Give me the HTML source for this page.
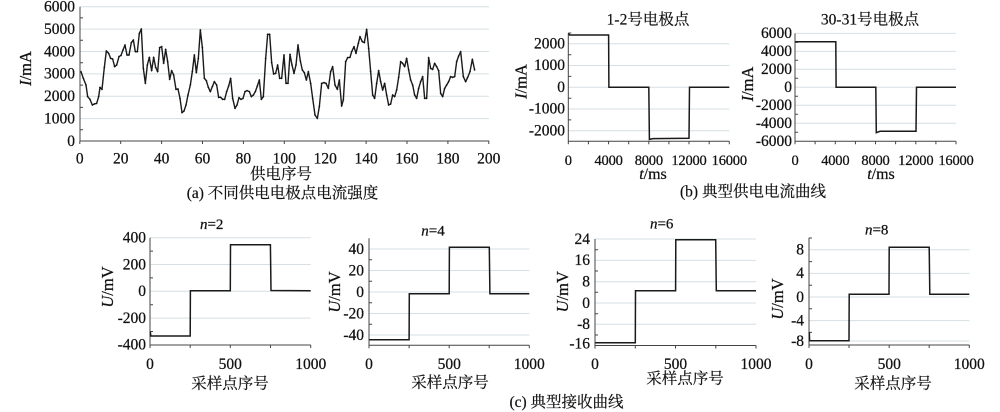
<!DOCTYPE html>
<html><head><meta charset="utf-8"><style>
html,body{margin:0;padding:0;background:#fff;}
svg{display:block;}
.n{font-family:"Liberation Serif","Noto Serif CJK SC",serif;font-size:15.5px;fill:#111;stroke:#111;stroke-width:0.25;}
.bx{font-size:14.5px;letter-spacing:-0.2px;}
.c{font-family:"Liberation Serif","Noto Serif CJK SC",serif;font-size:15.5px;fill:#111;stroke:#111;stroke-width:0.2;}
.g{stroke:#d6dfe3;stroke-width:1;}
.ax{stroke:#444;stroke-width:1;fill:none;}
.d{stroke:#1a1a1a;stroke-width:1.5;fill:none;}
</style></head><body>
<svg width="1000" height="412" viewBox="0 0 1000 412" xmlns="http://www.w3.org/2000/svg">
<defs>
<marker id="mk" markerWidth="8" markerHeight="8" refX="4" refY="4" markerUnits="userSpaceOnUse">
<path d="M1,4 H7 M4,1 V7" stroke="#111" stroke-width="1.6"/>
</marker>
</defs>

<!-- ========== Chart (a) ========== -->
<g>
<g class="g">
<line x1="80" y1="6.7" x2="489" y2="6.7"/>
<line x1="80" y1="29.1" x2="489" y2="29.1"/>
<line x1="80" y1="51.5" x2="489" y2="51.5"/>
<line x1="80" y1="73.9" x2="489" y2="73.9"/>
<line x1="80" y1="96.2" x2="489" y2="96.2"/>
<line x1="80" y1="118.6" x2="489" y2="118.6"/>
</g>
<path class="ax" d="M80,6.7 V141 H489"/>
<path class="ax" d="M80,17.9 h3 M80,40.3 h3 M80,62.7 h3 M80,85.1 h3 M80,107.4 h3 M80,129.8 h3
M79.8,141 v3 M120.7,141 v3 M161.6,141 v3 M202.5,141 v3 M243.4,141 v3 M284.3,141 v3 M325.2,141 v3 M366.1,141 v3 M407,141 v3 M447.9,141 v3 M488.8,141 v3"/>
<g class="n" text-anchor="end" dominant-baseline="central">
<text x="75" y="7">6000</text>
<text x="75" y="29.4">5000</text>
<text x="75" y="51.8">4000</text>
<text x="75" y="74.2">3000</text>
<text x="75" y="96.5">2000</text>
<text x="75" y="118.9">1000</text>
<text x="75" y="141.3">0</text>
</g>
<g class="n" text-anchor="middle">
<text x="79.8" y="163.5">0</text>
<text x="120.7" y="163.5">20</text>
<text x="161.6" y="163.5">40</text>
<text x="202.5" y="163.5">60</text>
<text x="243.4" y="163.5">80</text>
<text x="284.3" y="163.5">100</text>
<text x="325.2" y="163.5">120</text>
<text x="366.1" y="163.5">140</text>
<text x="407" y="163.5">160</text>
<text x="447.9" y="163.5">180</text>
<text x="488.8" y="163.5">200</text>
</g>
<text class="n" text-anchor="middle" transform="translate(31,68.5) rotate(-90)" style="font-size:16.5px"><tspan font-style="italic">I</tspan>/mA</text>
<text class="c" x="281" y="179" text-anchor="middle">供电序号</text>
<text class="c" x="282.5" y="198" text-anchor="middle">(a) 不同供电电极点电流强度</text>
<g transform="scale(0.33333)">
<polyline fill="none" stroke="#1a1a1a" stroke-width="4.2" stroke-linejoin="round" marker-start="url(#mk)" marker-mid="url(#mk)" marker-end="url(#mk)" points="243,215 250,235 258,255 263,290 270,298 277,315 283,312 290,310 296,290 300,262 306,268 313,202 319,153 326,160 332,175 338,177 344,200 350,195 357,170 363,166 369,150 375,135 381,165 387,165 394,128 400,120 406,155 412,155 418,100 424,87 430,205 436,250 442,195 448,172 455,212 461,172 467,202 473,215 479,143 485,140 491,190 497,148 503,185 509,238 515,212 521,225 528,268 534,267 540,295 546,338 552,333 558,315 564,285 571,255 577,215 583,165 589,218 595,175 601,90 607,142 613,235 619,242 625,262 631,275 637,260 643,245 650,255 656,292 662,292 668,298 674,298 680,275 686,258 692,235 698,295 705,325 711,315 717,293 723,298 729,295 735,275 741,272 748,275 754,290 760,285 766,275 772,258 778,240 784,298 790,290 797,175 803,103 809,103 815,188 821,222 827,220 833,195 839,235 845,235 852,165 858,250 864,250 870,163 876,195 882,220 888,195 894,135 901,183 907,210 913,218 919,240 925,215 932,250 938,295 945,345 952,355 958,320 965,250 972,248 978,250 985,265 992,215 998,200 1005,255 1012,268 1018,240 1025,318 1030,300 1037,185 1043,173 1050,172 1055,155 1062,140 1068,160 1075,130 1080,110 1087,125 1093,128 1100,88 1106,145 1112,215 1118,285 1124,295 1130,250 1136,212 1142,245 1148,270 1154,250 1160,285 1166,315 1172,312 1178,285 1184,290 1190,270 1196,232 1202,185 1208,190 1214,200 1220,175 1226,210 1232,240 1238,255 1244,285 1250,295 1256,265 1262,245 1268,230 1274,295 1280,295 1286,173 1292,205 1298,208 1304,190 1310,200 1316,212 1322,280 1328,290 1334,265 1340,255 1346,245 1352,230 1358,232 1364,230 1370,185 1376,168 1382,155 1390,230 1397,245 1403,232 1410,215 1417,178 1424,210"/>
</g>
</g>

<!-- ========== Chart (b1) ========== -->
<g>
<g class="g">
<line x1="568.3" y1="43.8" x2="729.3" y2="43.8"/>
<line x1="568.3" y1="65.5" x2="729.3" y2="65.5"/>
<line x1="568.3" y1="87.3" x2="729.3" y2="87.3"/>
<line x1="568.3" y1="109" x2="729.3" y2="109"/>
<line x1="568.3" y1="130.8" x2="729.3" y2="130.8"/>
</g>
<path class="ax" d="M568.3,33 V141.3 H729.3"/>
<path class="ax" d="M568.3,33 h3 M568.3,54.7 h3 M568.3,76.4 h3 M568.3,98.2 h3 M568.3,119.9 h3
M568.3,141.3 v3 M588.4,141.3 v3 M608.6,141.3 v3 M628.7,141.3 v3 M648.8,141.3 v3 M668.9,141.3 v3 M689,141.3 v3 M709.2,141.3 v3 M729.3,141.3 v3"/>
<g class="n" text-anchor="end" dominant-baseline="central">
<text x="565" y="44">2000</text>
<text x="565" y="65.7">1000</text>
<text x="565" y="87.5">0</text>
<text x="565" y="109.2">-1000</text>
<text x="565" y="131">-2000</text>
</g>
<g class="n bx" text-anchor="middle">
<text x="568.3" y="164.8">0</text>
<text x="608.6" y="164.8">4000</text>
<text x="648.8" y="164.8">8000</text>
<text x="689" y="164.8">12000</text>
<text x="729.3" y="164.8">16000</text>
</g>
<text class="n" text-anchor="middle" transform="translate(526.5,81.5) rotate(-90)" style="font-size:16.5px"><tspan font-style="italic">I</tspan>/mA</text>
<text class="n" x="653" y="179" text-anchor="middle" style="font-size:16px"><tspan font-style="italic">t</tspan>/ms</text>
<text class="c" x="648" y="24.5" text-anchor="middle">1-2号电极点</text>
<path class="d" d="M568.6,33.5 L569.5,35 L608.6,35 L608.9,87.3 L648.8,87.3 L649.4,139.4 L653,138.6 L689,138.3 L689.5,87.3 L729.3,87.3"/>
</g>

<!-- ========== Chart (b2) ========== -->
<g>
<g class="g">
<line x1="795" y1="33.4" x2="956" y2="33.4"/>
<line x1="795" y1="51.4" x2="956" y2="51.4"/>
<line x1="795" y1="69.3" x2="956" y2="69.3"/>
<line x1="795" y1="87.3" x2="956" y2="87.3"/>
<line x1="795" y1="105.3" x2="956" y2="105.3"/>
<line x1="795" y1="123.2" x2="956" y2="123.2"/>
</g>
<path class="ax" d="M795,33.4 V141.2 H956"/>
<path class="ax" d="M795,42.4 h3 M795,60.3 h3 M795,78.3 h3 M795,96.3 h3 M795,114.3 h3 M795,132.2 h3
M795,141.2 v3 M815.1,141.2 v3 M835.3,141.2 v3 M855.4,141.2 v3 M875.5,141.2 v3 M895.6,141.2 v3 M915.8,141.2 v3 M935.9,141.2 v3 M956,141.2 v3"/>
<g class="n" text-anchor="end" dominant-baseline="central">
<text x="792" y="33.6">6000</text>
<text x="792" y="51.6">4000</text>
<text x="792" y="69.5">2000</text>
<text x="792" y="87.5">0</text>
<text x="792" y="105.5">-2000</text>
<text x="792" y="123.4">-4000</text>
<text x="792" y="141.4">-6000</text>
</g>
<g class="n bx" text-anchor="middle">
<text x="795" y="164.8">0</text>
<text x="835.3" y="164.8">4000</text>
<text x="875.5" y="164.8">8000</text>
<text x="915.8" y="164.8">12000</text>
<text x="956" y="164.8">16000</text>
</g>
<text class="n" text-anchor="middle" transform="translate(753,84) rotate(-90)" style="font-size:16.5px"><tspan font-style="italic">I</tspan>/mA</text>
<text class="n" x="881" y="179" text-anchor="middle" style="font-size:16px"><tspan font-style="italic">t</tspan>/ms</text>
<text class="c" x="870" y="24.5" text-anchor="middle">30-31号电极点</text>
<text class="c" x="753" y="196.5" text-anchor="middle">(b) 典型供电电流曲线</text>
<path class="d" d="M795.3,41.7 L835.8,41.7 L836.1,87.3 L875.8,87.3 L876.3,132.7 L880,131.3 L916,131.3 L916.5,87.3 L956,87.3"/>
</g>

<!-- ========== Chart (c1) n=2 ========== -->
<g>
<g class="g">
<line x1="150" y1="237.7" x2="310.7" y2="237.7"/>
<line x1="150" y1="264.5" x2="310.7" y2="264.5"/>
<line x1="150" y1="291.3" x2="310.7" y2="291.3"/>
<line x1="150" y1="318.1" x2="310.7" y2="318.1"/>
</g>
<path class="ax" d="M150,237.7 V345 H310.7"/>
<path class="ax" d="M150,251.1 h3 M150,277.9 h3 M150,304.7 h3 M150,331.5 h3
M150,345 v3 M190.2,345 v3 M230.3,345 v3 M270.5,345 v3 M310.7,345 v3"/>
<g class="n" text-anchor="end" dominant-baseline="central">
<text x="146" y="238">400</text>
<text x="146" y="264.8">200</text>
<text x="146" y="291.6">0</text>
<text x="146" y="318.4">-200</text>
<text x="146" y="345.2">-400</text>
</g>
<g class="n" text-anchor="middle">
<text x="150" y="368.8">0</text>
<text x="230.3" y="368.8">500</text>
<text x="310.7" y="368.8">1000</text>
</g>
<text class="n" text-anchor="middle" transform="translate(113,287) rotate(-90)" style="font-size:16.5px"><tspan font-style="italic">U</tspan>/mV</text>
<text class="c" x="230" y="388.4" text-anchor="middle">采样点序号</text>
<text class="n" x="211.7" y="229" text-anchor="middle" style="font-size:15px"><tspan font-style="italic">n</tspan>=2</text>
<path class="d" d="M150.3,331.7 L150.8,336 L190.2,336 L190.4,290.7 L230.3,290.7 L230.5,244.7 L270.4,244.7 L271,290.5 L310.7,290.7"/>
</g>

<!-- ========== Chart (c2) n=4 ========== -->
<g>
<g class="g">
<line x1="369" y1="249" x2="529.3" y2="249"/>
<line x1="369" y1="270.5" x2="529.3" y2="270.5"/>
<line x1="369" y1="292" x2="529.3" y2="292"/>
<line x1="369" y1="313.5" x2="529.3" y2="313.5"/>
<line x1="369" y1="335" x2="529.3" y2="335"/>
</g>
<path class="ax" d="M369,238.3 V345.3 H529.3"/>
<path class="ax" d="M369,259.8 h3 M369,281.3 h3 M369,302.8 h3 M369,324.3 h3
M369,345.3 v3 M409.1,345.3 v3 M449.2,345.3 v3 M489.2,345.3 v3 M529.3,345.3 v3"/>
<g class="n" text-anchor="end" dominant-baseline="central">
<text x="364" y="249.3">40</text>
<text x="364" y="270.8">20</text>
<text x="364" y="292.3">0</text>
<text x="364" y="313.8">-20</text>
<text x="364" y="335.3">-40</text>
</g>
<g class="n" text-anchor="middle">
<text x="369" y="368.8">0</text>
<text x="449.2" y="368.8">500</text>
<text x="529.3" y="368.8">1000</text>
</g>
<text class="n" text-anchor="middle" transform="translate(340,292) rotate(-90)" style="font-size:16.5px"><tspan font-style="italic">U</tspan>/mV</text>
<text class="c" x="450" y="387.4" text-anchor="middle">采样点序号</text>
<text class="n" x="433" y="235.7" text-anchor="middle" style="font-size:15px"><tspan font-style="italic">n</tspan>=4</text>
<path class="d" d="M369.3,339.7 L409.1,339.7 L409.3,293.7 L449.2,293.7 L449.4,247.3 L489.3,247.3 L489.9,293.7 L529.3,293.7"/>
<text class="c" x="566.5" y="406.8" text-anchor="middle">(c) 典型接收曲线</text>
</g>

<!-- ========== Chart (c3) n=6 ========== -->
<g>
<g class="g">
<line x1="595" y1="239" x2="756" y2="239"/>
<line x1="595" y1="260.4" x2="756" y2="260.4"/>
<line x1="595" y1="281.7" x2="756" y2="281.7"/>
<line x1="595" y1="303" x2="756" y2="303"/>
<line x1="595" y1="324.3" x2="756" y2="324.3"/>
</g>
<path class="ax" d="M595,239 V345.5 H756"/>
<path class="ax" d="M595,249.7 h3 M595,271 h3 M595,292.3 h3 M595,313.7 h3 M595,335 h3
M595,345.5 v3 M635.3,345.5 v3 M675.5,345.5 v3 M715.8,345.5 v3 M756,345.5 v3"/>
<g class="n" text-anchor="end" dominant-baseline="central">
<text x="590" y="239.3">24</text>
<text x="590" y="260.7">16</text>
<text x="590" y="282">8</text>
<text x="590" y="303.3">0</text>
<text x="590" y="324.6">-8</text>
<text x="590" y="344">-16</text>
</g>
<g class="n" text-anchor="middle">
<text x="595" y="368.8">0</text>
<text x="675.5" y="368.8">500</text>
<text x="756" y="368.8">1000</text>
</g>
<text class="n" text-anchor="middle" transform="translate(568,291.7) rotate(-90)" style="font-size:16.5px"><tspan font-style="italic">U</tspan>/mV</text>
<text class="c" x="685" y="383.7" text-anchor="middle">采样点序号</text>
<text class="n" x="661.7" y="228.3" text-anchor="middle" style="font-size:15px"><tspan font-style="italic">n</tspan>=6</text>
<path class="d" d="M595.3,342.7 L635.3,342.7 L635.5,290.7 L675.6,290.7 L675.8,239.7 L715.7,239.7 L716.3,290.7 L756,290.7"/>
</g>

<!-- ========== Chart (c4) n=8 ========== -->
<g>
<g class="g">
<line x1="809" y1="249.8" x2="969.3" y2="249.8"/>
<line x1="809" y1="273.4" x2="969.3" y2="273.4"/>
<line x1="809" y1="297" x2="969.3" y2="297"/>
<line x1="809" y1="320.6" x2="969.3" y2="320.6"/>
<line x1="809" y1="341" x2="969.3" y2="341"/>
</g>
<path class="ax" d="M809,237.7 V345 H969.3"/>
<path class="ax" d="M809,238 h3 M809,261.6 h3 M809,285.2 h3 M809,308.8 h3 M809,332.4 h3
M809,345 v3 M849,345 v3 M889.2,345 v3 M929.2,345 v3 M969.3,345 v3"/>
<g class="n" text-anchor="end" dominant-baseline="central">
<text x="804" y="250.1">8</text>
<text x="804" y="273.7">4</text>
<text x="804" y="297.3">0</text>
<text x="804" y="320.9">-4</text>
<text x="804" y="341.3">-8</text>
</g>
<g class="n" text-anchor="middle">
<text x="809" y="368.8">0</text>
<text x="889.2" y="368.8">500</text>
<text x="969.3" y="368.8">1000</text>
</g>
<text class="n" text-anchor="middle" transform="translate(783,299) rotate(-90)" style="font-size:16.5px"><tspan font-style="italic">U</tspan>/mV</text>
<text class="c" x="893" y="388.4" text-anchor="middle">采样点序号</text>
<text class="n" x="876.7" y="234.3" text-anchor="middle" style="font-size:15px"><tspan font-style="italic">n</tspan>=8</text>
<path class="d" d="M809.3,332 L809.6,340.7 L849,340.7 L849.2,294.3 L889,294.3 L889.2,247.3 L929.2,247.3 L929.8,294.3 L969.3,294.3"/>
</g>
</svg>
</body></html>
